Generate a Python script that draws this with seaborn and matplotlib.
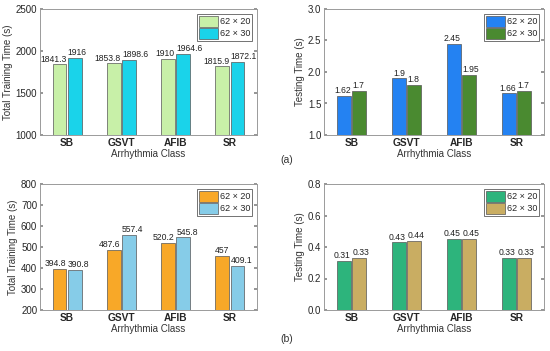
import matplotlib.pyplot as plt
import pandas as pd
import seaborn as sns

# Data
classes = ['SB', 'GSVT', 'AFIB', 'SR']
sizes = ['62 × 20', '62 × 30']

train_a_20 = [1841.3, 1853.8, 1910, 1815.9]
train_a_30 = [1916, 1898.6, 1964.6, 1872.1]
test_a_20 = [1.62, 1.9, 2.45, 1.66]
test_a_30 = [1.7, 1.8, 1.95, 1.7]

train_b_20 = [394.8, 487.6, 520.2, 457]
train_b_30 = [390.8, 557.4, 545.8, 409.1]
test_b_20 = [0.31, 0.43, 0.45, 0.33]
test_b_30 = [0.33, 0.44, 0.45, 0.33]

sns.set_theme(style='white')
plt.rcParams['font.family'] = ['Liberation Sans', 'DejaVu Sans']


def make_df(v20, v30):
    return pd.DataFrame({
        'cls': classes * 2,
        'size': [sizes[0]] * 4 + [sizes[1]] * 4,
        'value': list(v20) + list(v30),
    })


def draw(ax, v20, v30, colors, ylim, yticks, ylabel):
    df = make_df(v20, v30)
    sns.barplot(data=df, x='cls', y='value', hue='size', hue_order=sizes,
                order=classes, palette=colors, width=0.56, gap=0.1,
                edgecolor='#555555', linewidth=0.5, saturation=1, ax=ax)
    # value labels: first series hugs the bar's right edge, second the left edge
    for i, cont in enumerate(ax.containers):
        for bar, v in zip(cont, cont.datavalues):
            if i == 0:
                x, ha = bar.get_x() + bar.get_width(), 'right'
            else:
                x, ha = bar.get_x(), 'left'
            ax.annotate('%g' % v, (x, bar.get_height()), xytext=(0, 0.5),
                        textcoords='offset points', ha=ha, va='bottom',
                        fontsize=6.2, color='#222222')
    ax.set_ylim(*ylim)
    ax.set_yticks(yticks)
    ax.set_xlim(-0.5, 3.5)
    ax.set_xlabel('Arrhythmia Class', fontsize=7, color='#333333', labelpad=1)
    ax.set_ylabel(ylabel, fontsize=7, color='#333333', labelpad=2)
    ax.tick_params(axis='x', labelsize=7.3, pad=2, length=0)
    ax.tick_params(axis='y', labelsize=7, pad=2, direction='in', length=2,
                   left=True, right=True, color='#888888')
    for lab in ax.get_xticklabels():
        lab.set_fontweight('bold')
    for sp in ax.spines.values():
        sp.set_color('#9a9a9a')
        sp.set_linewidth(0.7)
    leg = ax.legend(loc='upper right', fontsize=6.5, frameon=True,
                    fancybox=False, edgecolor='#333333', handlelength=2.1,
                    handleheight=1.5, borderpad=0.25, labelspacing=0.1,
                    handletextpad=0.2, borderaxespad=0.5)
    leg.get_frame().set_linewidth(0.6)


fig = plt.figure(figsize=(5.5, 3.51), dpi=100)
W, H = 550, 351
axes_px = [(40, 9, 257, 135), (324, 9, 544, 135),
           (40, 184, 257, 310), (324, 184, 544, 310)]
axs = [fig.add_axes([l / W, 1 - b / H, (r - l) / W, (b - t) / H])
       for (l, t, r, b) in axes_px]

draw(axs[0], train_a_20, train_a_30, ['#c8f0a8', '#1ad3ea'],
     (1000, 2500), [1000, 1500, 2000, 2500], 'Total Training Time (s)')
draw(axs[1], test_a_20, test_a_30, ['#2482f2', '#4a8a30'],
     (1, 3), [1, 1.5, 2, 2.5, 3], 'Testing Time (s)')
draw(axs[2], train_b_20, train_b_30, ['#f8a828', '#86cce8'],
     (200, 800), [200, 300, 400, 500, 600, 700, 800], 'Total Training Time (s)')
draw(axs[3], test_b_20, test_b_30, ['#2db47c', '#c9ad62'],
     (0, 0.8), [0, 0.2, 0.4, 0.6, 0.8], 'Testing Time (s)')

fig.text(280 / W, 1 - 160 / H, '(a)', fontsize=7.5, color='#333333', va='center')
fig.text(280 / W, 1 - 339 / H, '(b)', fontsize=7.5, color='#333333', va='center')

fig.savefig('out.png', dpi=100)
